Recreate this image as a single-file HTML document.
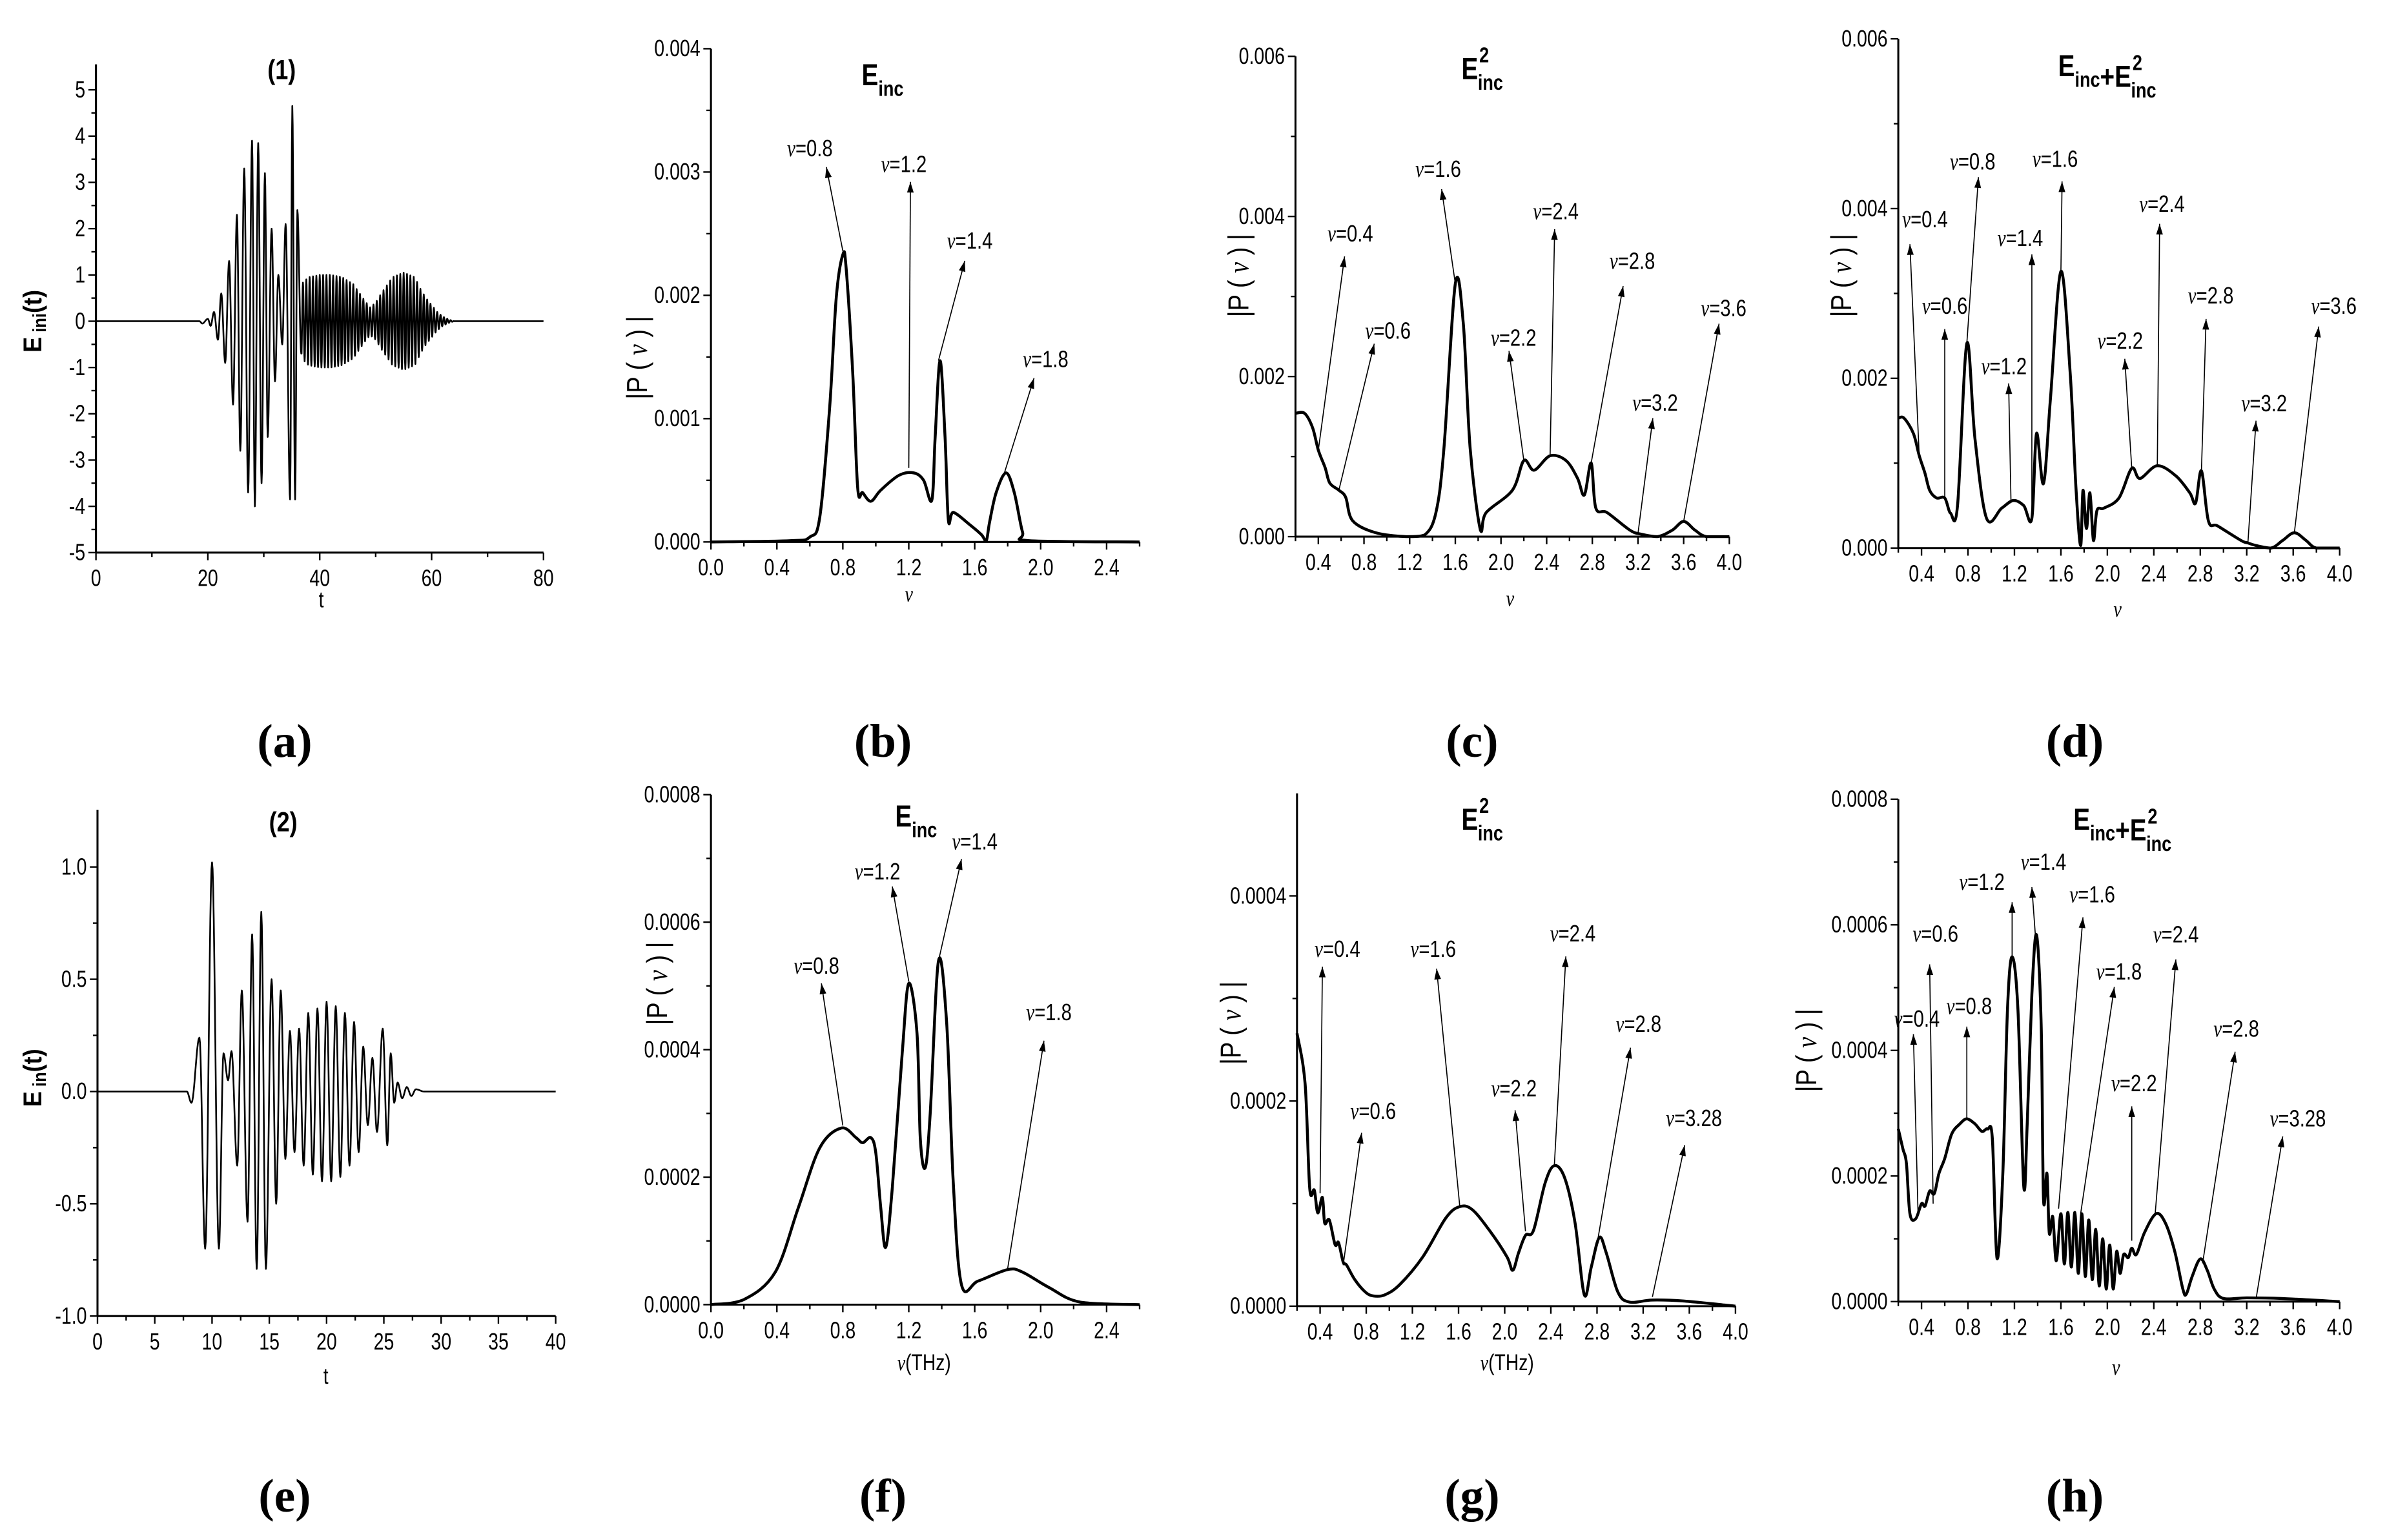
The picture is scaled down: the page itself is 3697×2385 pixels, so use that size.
<!DOCTYPE html>
<html><head><meta charset="utf-8"><title>THz spectra figure</title>
<style>
html,body{margin:0;padding:0;background:#fff;}
svg{display:block;}
text{font-family:"Liberation Sans",sans-serif;fill:#000;}
.serif{font-family:"Liberation Serif",serif;}
</style></head>
<body>
<svg id="fig" xmlns="http://www.w3.org/2000/svg" width="3697" height="2385" viewBox="0 0 1568 1011.6">
<rect x="0" y="0" width="1568" height="1011.6" fill="#fff"/>
</svg>
<script>
// ---------- DATA ----------
const aT=[0,18.5,19.0,20.0,20.5,21.1,21.8,22.4,23.1,23.8,24.5,25.2,25.8,26.5,27.2,27.9,28.4,29.0,29.6,30.2,30.7,31.4,32.0,32.6,33.3,33.9,34.7,35.1,35.6,36.0,36.7];
const aV=[0,0,-0.05,0.05,-0.1,0.2,-0.4,0.6,-0.9,1.3,-1.8,2.3,-2.8,3.3,-3.7,3.9,-4.0,3.85,-3.5,3.2,-2.5,2.0,-1.3,1.0,-0.5,2.1,-3.85,4.65,-3.85,2.4,-0.7];
const aEnvT=[36.7,38,40,42,44,46,48,49,50,51,53,55,57,58,59,60,61,62,63,64];
const aEnvA=[0.8,0.95,1.0,1.0,0.95,0.8,0.45,0.3,0.4,0.6,0.95,1.05,0.95,0.7,0.5,0.35,0.2,0.1,0.04,0];
const aPeriod=0.6;
const bNu=[0,0.48,0.6,0.66,0.72,0.76,0.8,0.82,0.86,0.89,0.92,0.97,1.03,1.14,1.23,1.29,1.34,1.36,1.39,1.42,1.44,1.47,1.57,1.64,1.67,1.69,1.73,1.79,1.84,1.89,1.93,2.6];
const bP=[0,0.01,0.04,0.2,1.09,1.98,2.33,2.22,1.37,0.44,0.4,0.33,0.42,0.54,0.56,0.5,0.34,0.85,1.47,0.85,0.18,0.24,0.14,0.06,0.01,0.16,0.4,0.56,0.4,0.08,0.01,0];
const bAnn=[["0.8",0.8,2.36,0.7,3.04,0.6,3.19],["1.2",1.2,0.6,1.21,2.92,1.17,3.06],["1.4",1.38,1.47,1.54,2.28,1.57,2.44],["1.8",1.78,0.56,1.96,1.33,2.03,1.48]];
const cNu=[0.2,0.28,0.35,0.4,0.46,0.5,0.58,0.64,0.7,0.9,1.17,1.33,1.43,1.5,1.6,1.67,1.73,1.82,1.87,2.1,2.2,2.29,2.43,2.57,2.67,2.73,2.79,2.83,2.93,3.13,3.23,3.37,3.5,3.6,3.7,3.8,4.0];
const cP=[1.54,1.54,1.36,1.08,0.86,0.67,0.58,0.49,0.2,0.05,0,0.02,0.3,1.1,3.16,2.66,1.1,0.08,0.3,0.58,0.95,0.83,1.01,0.95,0.73,0.52,0.92,0.36,0.3,0.08,0.03,0,0.08,0.19,0.08,0,0];
const cAnn=[["0.4",0.4,1.08,0.63,3.5,0.68,3.78],["0.6",0.58,0.58,0.89,2.41,1.01,2.57],["1.6",1.6,3.16,1.48,4.34,1.45,4.59],["2.2",2.2,0.95,2.07,2.32,2.11,2.48],["2.4",2.43,1.01,2.47,3.84,2.48,4.06],["2.8",2.79,0.92,3.07,3.13,3.15,3.44],["3.2",3.2,0.04,3.33,1.48,3.35,1.67],["3.6",3.6,0.19,3.91,2.66,3.95,2.85]];
const dNu=[0.2,0.25,0.33,0.38,0.43,0.47,0.53,0.6,0.65,0.71,0.79,0.86,0.96,1.09,1.19,1.28,1.35,1.39,1.45,1.51,1.6,1.68,1.73,1.77,1.79,1.82,1.85,1.88,1.91,1.97,2.1,2.21,2.28,2.43,2.59,2.71,2.76,2.81,2.87,2.95,3.15,3.21,3.28,3.41,3.51,3.61,3.71,3.8,4.0];
const dP=[1.53,1.53,1.35,1.09,0.88,0.68,0.59,0.59,0.41,0.5,2.41,1.29,0.35,0.47,0.56,0.5,0.35,1.35,0.76,1.76,3.26,2.06,0.7,0.03,0.68,0.23,0.65,0.09,0.44,0.47,0.59,0.94,0.82,0.97,0.85,0.65,0.53,0.91,0.32,0.26,0.09,0.06,0.03,0,0.09,0.18,0.09,0,0];
const dAnn=[["0.4",0.38,1.09,0.3,3.58,0.43,3.87],["0.6",0.6,0.59,0.6,2.58,0.6,2.85],["0.8",0.79,2.41,0.89,4.37,0.84,4.55],["1.2",1.17,0.56,1.15,1.94,1.11,2.14],["1.4",1.35,0.38,1.35,3.46,1.25,3.65],["1.6",1.6,3.26,1.61,4.32,1.55,4.58],["2.2",2.21,0.94,2.15,2.23,2.11,2.44],["2.4",2.43,0.97,2.45,3.82,2.47,4.05],["2.8",2.81,0.91,2.85,2.7,2.89,2.97],["3.2",3.21,0.06,3.28,1.5,3.35,1.7],["3.6",3.61,0.18,3.82,2.61,3.95,2.85]];
const eT=[0,7.8,8.2,8.9,9.4,10.0,10.6,11.0,11.4,11.7,12.2,12.6,13.1,13.5,13.9,14.3,14.7,15.2,15.6,16.0,16.4,16.8,17.2,17.6,18.0,18.4,18.8,19.2,19.6,20.0,20.4,20.8,21.2,21.6,22.0,22.4,22.8,23.2,23.6,24.0,24.4,24.9,25.3,25.6,25.9,26.2,26.6,27.0,27.4,27.8,28.5,40];
const eV=[0,0,-0.05,0.24,-0.7,1.02,-0.7,0.17,0.05,0.18,-0.33,0.45,-0.58,0.7,-0.79,0.8,-0.79,0.5,-0.5,0.45,-0.3,0.27,-0.27,0.28,-0.33,0.35,-0.37,0.37,-0.4,0.4,-0.4,0.38,-0.38,0.35,-0.33,0.31,-0.27,0.2,-0.15,0.15,-0.18,0.28,-0.24,0.17,-0.05,0.04,-0.03,0.02,-0.02,0.01,0,0];
const fNu=[0,0.2,0.39,0.53,0.66,0.79,0.88,0.92,0.97,1.0,1.03,1.06,1.1,1.16,1.2,1.25,1.27,1.3,1.33,1.38,1.43,1.47,1.52,1.62,1.8,1.89,2.05,2.24,2.6];
const fP=[0,0.08,0.51,1.52,2.46,2.77,2.62,2.54,2.62,2.38,1.52,0.9,1.83,3.94,5.04,4.25,2.6,2.15,3.0,5.39,4.41,1.91,0.31,0.37,0.55,0.51,0.27,0.04,0];
const fAnn=[["0.8",0.8,2.81,0.67,5.04,0.64,5.31],["1.2",1.2,5.07,1.1,6.56,1.01,6.79],["1.4",1.38,5.39,1.52,6.99,1.6,7.26],["1.8",1.8,0.57,2.02,4.14,2.05,4.58]];
const gNu=[0.2,0.27,0.31,0.35,0.38,0.42,0.44,0.48,0.53,0.56,0.6,0.63,0.7,0.79,0.86,0.96,1.09,1.29,1.49,1.61,1.72,1.88,2.02,2.07,2.12,2.18,2.25,2.35,2.43,2.52,2.61,2.69,2.75,2.82,2.88,2.98,3.08,3.28,3.55,4.0];
const gP=[2.66,2.17,1.15,1.13,0.91,1.06,0.81,0.84,0.6,0.62,0.43,0.4,0.26,0.14,0.1,0.11,0.21,0.48,0.86,0.97,0.94,0.72,0.48,0.35,0.52,0.69,0.74,1.2,1.37,1.25,0.81,0.11,0.38,0.67,0.52,0.14,0.04,0.06,0.05,0];
const gAnn=[["0.4",0.4,1.1,0.42,3.31,0.55,3.48],["0.6",0.6,0.4,0.76,1.69,0.86,1.9],["1.6",1.61,0.98,1.41,3.29,1.38,3.48],["2.2",2.18,0.73,2.09,1.91,2.08,2.12],["2.4",2.43,1.37,2.53,3.41,2.59,3.63],["2.8",2.81,0.67,3.09,2.52,3.16,2.75],["3.28",3.28,0.09,3.56,1.57,3.64,1.83]];
const hNu=[0.2,0.24,0.27,0.3,0.35,0.4,0.43,0.47,0.51,0.55,0.6,0.66,0.73,0.79,0.86,0.92,0.97,1.01,1.05,1.1,1.14,1.18,1.23,1.28,1.31,1.35,1.39,1.43,1.45,1.48,1.5,1.53,1.56,1.6,1.63,1.66,1.69,1.72,1.75,1.78,1.81,1.84,1.87,1.9,1.93,1.96,1.99,2.02,2.05,2.08,2.11,2.14,2.18,2.21,2.25,2.32,2.42,2.5,2.58,2.65,2.68,2.73,2.8,2.86,2.92,3.0,3.2,3.5,4.0];
const hP=[2.75,2.43,2.2,1.4,1.32,1.56,1.52,1.76,1.72,2.04,2.28,2.67,2.83,2.91,2.83,2.71,2.75,2.59,0.69,2.04,4.65,5.49,4.65,1.84,2.83,4.89,5.84,4.42,1.64,2.04,1.09,1.35,0.65,1.4,0.6,1.42,0.55,1.42,0.45,1.4,0.4,1.3,0.35,1.15,0.25,1.0,0.2,0.9,0.2,0.8,0.45,0.75,0.7,0.85,0.75,1.1,1.4,1.25,0.8,0.2,0.12,0.4,0.68,0.5,0.2,0.05,0.06,0.05,0];
const hAnn=[["0.4",0.37,1.4,0.33,4.26,0.36,4.5],["0.6",0.5,1.56,0.47,5.37,0.52,5.85],["0.8",0.79,2.91,0.79,4.38,0.81,4.7],["1.2",1.18,5.49,1.18,6.36,0.92,6.68],["1.4",1.38,5.84,1.35,6.6,1.45,7.0],["1.6",1.58,1.48,1.79,6.12,1.87,6.48],["1.8",1.77,1.4,2.06,5.01,2.1,5.25],["2.2",2.21,0.97,2.21,3.11,2.23,3.47],["2.4",2.41,1.36,2.59,5.45,2.59,5.84],["2.8",2.82,0.61,3.1,3.98,3.11,4.34],["3.28",3.28,0.04,3.51,2.63,3.64,2.91]];

// ---------- HELPERS ----------
const NS='http://www.w3.org/2000/svg';
const svg=document.getElementById('fig');
function el(tag,attrs,parent){const e=document.createElementNS(NS,tag);for(const k in attrs)e.setAttribute(k,attrs[k]);(parent||svg).appendChild(e);return e;}
function txt(parent,x,y,s,size,anchor,sx,weight){
  const t=el('text',{transform:`translate(${x} ${y}) scale(${sx||1} 1)`,'font-size':size,'text-anchor':anchor||'middle'},parent);
  if(weight)t.setAttribute('font-weight',weight);
  t.textContent=s;return t;
}
function fmt(v,d){let s=v.toFixed(d);if(/^-0(\.0*)?$/.test(s))s=s.slice(1);return s;}

function makePanel(p){
  const g=el('g',{});
  
  
  p.sx=v=>p.xa+(v-p.xv0)*p.kx;
  p.sy=v=>p.y0-v*p.ky;
  const xL=p.sx(p.xmin),xR=p.sx(p.xmax),yB=p.sy(p.ymin),yT=p.sy(p.ymax);
  const xax=el('line',{x1:xL,y1:yB,x2:xR,y2:yB,stroke:'#000','stroke-width':1.3},g);
  
  
  const yax=el('line',{x1:xL,y1:yB,x2:xL,y2:yT,stroke:'#000','stroke-width':1.3},g);
  
  
  const nx=Math.round((p.xmax-p.xmin)/p.xminor);
  for(let i=0;i<=nx;i++){
    const v=p.xmin+i*p.xminor;const X=p.sx(v);
    const major=Math.abs((v-p.xmajor0)/p.xmajor-Math.round((v-p.xmajor0)/p.xmajor))<1e-6 && v>=p.xmajor0-1e-9;
    const tk=el('line',{x1:X,y1:yB,x2:X,y2:yB+(major?5:3),stroke:'#000','stroke-width':1},g);
    
    
    if(major){
      const lb=txt(g,X,yB+22,fmt(v,p.xd),15.5,'middle',0.78);
      
      
    }
  }
  const ny=Math.round((p.ytop-p.ymin)/p.yminor);
  for(let i=0;i<=ny;i++){
    const v=p.ymin+i*p.yminor;const Y=p.sy(v);
    const r=(v-p.ymin)/p.ymajor;const major=Math.abs(r-Math.round(r))<1e-6;
    const tk=el('line',{x1:xL,y1:Y,x2:xL-(major?5:3),y2:Y,stroke:'#000','stroke-width':1},g);
    
    
    if(major){
      const lb=txt(g,xL-7,Y+5,fmt(v,p.yd),15.5,'end',0.78);
      
      
    }
  }
  return g;
}
function smoothPath(pts,yMax){
  let d=`M${pts[0][0].toFixed(2)},${pts[0][1].toFixed(2)}`;
  const n=pts.length;
  for(let i=0;i<n-1;i++){
    const p0=pts[Math.max(i-1,0)],p1=pts[i],p2=pts[i+1],p3=pts[Math.min(i+2,n-1)];
    const c1=[p1[0]+(p2[0]-p0[0])/6,Math.min(yMax,p1[1]+(p2[1]-p0[1])/6)];
    const c2=[p2[0]-(p3[0]-p1[0])/6,Math.min(yMax,p2[1]-(p3[1]-p1[1])/6)];
    d+=` C${c1[0].toFixed(2)},${c1[1].toFixed(2)} ${c2[0].toFixed(2)},${c2[1].toFixed(2)} ${p2[0].toFixed(2)},${p2[1].toFixed(2)}`;
  }
  return d;
}
function drawSpectrum(p,g,nu,pv,unit){
  const pts=nu.map((v,i)=>[p.sx(v),p.sy(pv[i]*unit)]);
  const path=el('path',{d:smoothPath(pts,p.sy(0)),fill:'none',stroke:'#000','stroke-width':1.9,'stroke-linejoin':'round'},g);
  
  
}
function cosInterp(T,V,step){
  const out=[];
  for(let i=0;i<T.length-1;i++){
    const n=Math.max(2,Math.ceil((T[i+1]-T[i])/step));
    for(let k=0;k<n;k++){const f=k/n;const w=(1-Math.cos(Math.PI*f))/2;out.push([T[i]+f*(T[i+1]-T[i]),V[i]+w*(V[i+1]-V[i])]);}
  }
  out.push([T[T.length-1],V[V.length-1]]);
  return out;
}
function drawSignal(p,g,samples){
  const d=samples.map((s,i)=>(i?'L':'M')+p.sx(s[0]).toFixed(2)+','+p.sy(s[1]).toFixed(2)).join(' ');
  const path=el('path',{d:d,fill:'none',stroke:'#000','stroke-width':1.1,'stroke-linejoin':'round'},g);
  
  
}
function drawAnn(p,g,ann,unit){
  ann.forEach(a=>{
    const x1=p.sx(a[1]),y1=p.sy(a[2]*unit),x2=p.sx(a[3]),y2=p.sy(a[4]*unit);
    const ag=el('g',{},g);
    
    
    const ln=el('line',{x1:x1,y1:y1,x2:x2,y2:y2,stroke:'#000','stroke-width':0.7},ag);
    
    
    const dx=x2-x1,dy=y2-y1,L=Math.hypot(dx,dy)||1,ux=dx/L,uy=dy/L;
    const bx=x2-ux*7,by=y2-uy*7;
    const hd=el('polygon',{points:`${x2},${y2} ${bx-uy*2.2},${by+ux*2.2} ${bx+uy*2.2},${by-ux*2.2}`,fill:'#000'},ag);
    
    
    const t=el('text',{transform:`translate(${p.sx(a[5])} ${p.sy(a[6]*unit)+5}) scale(0.8 1)`,'font-size':15.5,'text-anchor':'middle'},ag);
    
    
    const s1=el('tspan',{'font-family':'Liberation Serif, serif','font-style':'italic'},t);s1.textContent='ν';
    const s2=el('tspan',{},t);s2.textContent='='+a[0];
  });
}
function yLabelP(x,y){
  const t=el('text',{transform:`translate(${x} ${y}) rotate(-90) scale(0.85 1)`,'font-size':19,'text-anchor':'middle'});
  
  
  const a=el('tspan',{},t);a.textContent='|P ( ';
  const b=el('tspan',{'font-family':'Liberation Serif, serif','font-style':'italic'},t);b.textContent='ν';
  const c=el('tspan',{},t);c.textContent=' ) |';
}
function xLabelNu(x,y,suffix){
  const t=el('text',{transform:`translate(${x} ${y}) scale(0.8 1)`,'font-size':15,'text-anchor':'middle'});
  
  
  const b=el('tspan',{'font-family':'Liberation Serif, serif','font-style':'italic'},t);b.textContent='ν';
  if(suffix){const c=el('tspan',{},t);c.textContent=suffix;}
}
function titleE(x,y,kind){
  const t=el('text',{transform:`translate(${x} ${y}) scale(0.82 1)`,'font-size':20,'font-weight':'bold','text-anchor':'start'});
  
  
  function E(sq){
    const e=el('tspan',{},t);e.textContent='E';
    if(sq){const s=el('tspan',{'font-size':14,dy:-11,dx:1},t);s.textContent='2';
      const i=el('tspan',{'font-size':14,dy:18,dx:-9},t);i.textContent='inc';
      const r=el('tspan',{'font-size':20,dy:-7},t);r.textContent='';}
    else{const i=el('tspan',{'font-size':14,dy:7},t);i.textContent='inc';const r=el('tspan',{dy:-7},t);r.textContent='';}
  }
  if(kind==='e')E(false);
  else if(kind==='e2')E(true);
  else{E(false);const pl=el('tspan',{},t);pl.textContent='+';E(true);}
}
function panelLetter(x,y,s){
  const t=el('text',{x:x,y:y,'font-size':31,'font-weight':'bold','text-anchor':'middle',class:'serif'});
  
  
  t.textContent='('+s+')';
}
function boldLabel(x,y,s,name){
  const t=txt(svg,x,y,s,18,'middle',0.85,'bold');
  
  
  return t;
}

// ---------- PANEL (a) ----------
const pa={name:'panel-a-time-signal',xa:63,xv0:0,kx:3.675,xmin:0,xmax:80,xminor:10,xmajor:20,xmajor0:0,xd:0,
  y0:211,ky:30.4,ymin:-5,ymax:5.55,ytop:5,yminor:0.5,ymajor:1,yd:0};
const ga=makePanel(pa);
(function(){
  let s=cosInterp(aT,aV,0.08);
  const tStart=aEnvT[0],tEnd=aEnvT[aEnvT.length-1];
  for(let t=tStart+aPeriod/12;t<=tEnd;t+=aPeriod/12){
    let j=0;while(j<aEnvT.length-2&&aEnvT[j+1]<t)j++;
    const f=(t-aEnvT[j])/(aEnvT[j+1]-aEnvT[j]);const A=aEnvA[j]+f*(aEnvA[j+1]-aEnvA[j]);
    s.push([t,-A*Math.cos(2*Math.PI*(t-tStart)/aPeriod)]);
  }
  s.push([80,0]);
  drawSignal(pa,ga,s);
})();
boldLabel(185,52,'(1)','panel-title');
(function(){const t=el('text',{transform:'translate(27 211) rotate(-90) scale(0.9 1)','font-size':17,'font-weight':'bold','text-anchor':'middle'});

const a=el('tspan',{},t);a.textContent='E';const b=el('tspan',{'font-size':12,dy:3},t);b.textContent=' ini';const c=el('tspan',{dy:-3},t);c.textContent='(t)';})();
(function(){const t=txt(svg,211,399,'t',15,'middle',0.8);})();
panelLetter(187,497,'a');

// ---------- PANEL (b) ----------
const pb={name:'panel-b-einc-spectrum',xa:467,xv0:0,kx:108.3,xmin:0,xmax:2.6,xminor:0.2,xmajor:0.4,xmajor0:0,xd:1,
  y0:356,ky:81000,ymin:0,ymax:0.004,ytop:0.004,yminor:0.0005,ymajor:0.001,yd:3};
const gb=makePanel(pb);
drawSpectrum(pb,gb,bNu,bP,1e-3);
drawAnn(pb,gb,bAnn,1e-3);
titleE(566,56,'e');
yLabelP(425,235);
xLabelNu(597,395);
panelLetter(580,497,'b');

// ---------- PANEL (c) ----------
const pc={name:'panel-c-e2-spectrum',xa:851,xv0:0.2,kx:75,xmin:0.2,xmax:4.0,xminor:0.2,xmajor:0.4,xmajor0:0.4,xd:1,
  y0:352.5,ky:52583,ymin:0,ymax:0.006,ytop:0.006,yminor:0.001,ymajor:0.002,yd:3};
const gc=makePanel(pc);
drawSpectrum(pc,gc,cNu,cP,1e-3);
drawAnn(pc,gc,cAnn,1e-3);
titleE(960,52,'e2');
yLabelP(820,181);
xLabelNu(992,398);
panelLetter(967,497,'c');

// ---------- PANEL (d) ----------
const pd={name:'panel-d-sum-spectrum',xa:1247,xv0:0.2,kx:76.3,xmin:0.2,xmax:4.0,xminor:0.2,xmajor:0.4,xmajor0:0.4,xd:1,
  y0:360,ky:55750,ymin:0,ymax:0.006,ytop:0.006,yminor:0.001,ymajor:0.002,yd:3};
const gd=makePanel(pd);
drawSpectrum(pd,gd,dNu,dP,1e-3);
drawAnn(pd,gd,dAnn,1e-3);
titleE(1352,50,'sum');
yLabelP(1216,181);
xLabelNu(1391,405);
panelLetter(1363,497,'d');

// ---------- PANEL (e) ----------
const pe={name:'panel-e-time-signal',xa:64,xv0:0,kx:7.525,xmin:0,xmax:40,xminor:2.5,xmajor:5,xmajor0:0,xd:0,
  y0:717,ky:147.5,ymin:-1,ymax:1.255,ytop:1,yminor:0.25,ymajor:0.5,yd:1};
const ge=makePanel(pe);
drawSignal(pe,ge,cosInterp(eT,eV,0.05));
boldLabel(186,546,'(2)','panel-title');
(function(){const t=el('text',{transform:'translate(27 708) rotate(-90) scale(0.9 1)','font-size':17,'font-weight':'bold','text-anchor':'middle'});

const a=el('tspan',{},t);a.textContent='E';const b=el('tspan',{'font-size':12,dy:3},t);b.textContent=' in';const c=el('tspan',{dy:-3},t);c.textContent='(t)';})();
(function(){const t=txt(svg,214,909,'t',15,'middle',0.8);})();
panelLetter(187,993,'e');

// ---------- PANEL (f) ----------
const pf={name:'panel-f-einc-spectrum',xa:467,xv0:0,kx:108.3,xmin:0,xmax:2.6,xminor:0.2,xmajor:0.4,xmajor0:0,xd:1,
  y0:857,ky:418750,ymin:0,ymax:0.0008,ytop:0.0008,yminor:0.0001,ymajor:0.0002,yd:4};
const gf=makePanel(pf);
drawSpectrum(pf,gf,fNu,fP,1e-4);
drawAnn(pf,gf,fAnn,1e-4);
titleE(588,543,'e');
yLabelP(438,646);
xLabelNu(607,900,'(THz)');
panelLetter(580,993,'f');

// ---------- PANEL (g) ----------
const pg={name:'panel-g-e2-spectrum',xa:852,xv0:0.2,kx:75.8,xmin:0.2,xmax:4.0,xminor:0.2,xmajor:0.4,xmajor0:0.4,xd:1,
  y0:858,ky:673750,ymin:0,ymax:0.0005,ytop:0.0004,yminor:0.0001,ymajor:0.0002,yd:4};
const gg=makePanel(pg);
drawSpectrum(pg,gg,gNu,gP,1e-4);
drawAnn(pg,gg,gAnn,1e-4);
titleE(960,545,'e2');
yLabelP(815,672);
xLabelNu(990,900,'(THz)');
panelLetter(967,993,'g');

// ---------- PANEL (h) ----------
const ph={name:'panel-h-sum-spectrum',xa:1247,xv0:0.2,kx:76.3,xmin:0.2,xmax:4.0,xminor:0.2,xmajor:0.4,xmajor0:0.4,xd:1,
  y0:855,ky:412500,ymin:0,ymax:0.0008,ytop:0.0008,yminor:0.0001,ymajor:0.0002,yd:4};
const gh=makePanel(ph);
drawSpectrum(ph,gh,hNu,hP,1e-4);
drawAnn(ph,gh,hAnn,1e-4);
titleE(1362,545,'sum');
yLabelP(1193,690);
xLabelNu(1390,903);
panelLetter(1363,993,'h');
</script>
</body></html>
